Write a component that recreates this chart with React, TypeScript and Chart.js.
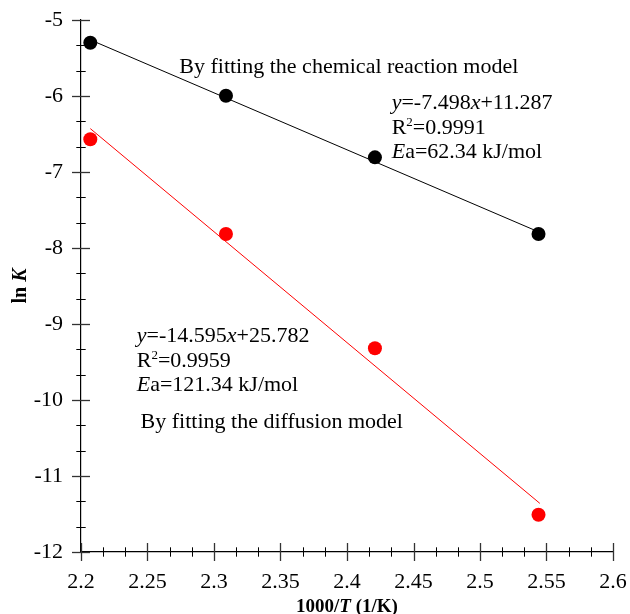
import React, { useEffect, useRef } from "react";
import { Chart, registerables } from "chart.js";

Chart.register(...registerables);

// ---- data ----
const xTickValues = [2.2, 2.25, 2.3, 2.35, 2.4, 2.45, 2.5, 2.55, 2.6];
const xTickLabels = ["2.2", "2.25", "2.3", "2.35", "2.4", "2.45", "2.5", "2.55", "2.6"];
const yTickValues = [-12, -11, -10, -9, -8, -7, -6, -5];
const yTickLabels = ["-12", "-11", "-10", "-9", "-8", "-7", "-6", "-5"];

const invTemp = [2.207, 2.309, 2.421, 2.544];
const lnKChem = [-5.3, -5.996, -6.807, -7.816];
const lnKDiff = [-6.57, -7.816, -9.32, -11.51];

const fitX = [2.207, 2.545];
const fitChem = [-5.261, -7.795];
const fitDiff = [-6.429, -11.36];

const FONT = "'Liberation Serif', 'Times New Roman', serif";

type Run = { text: string; style?: string; size?: number; dy?: number };

function runsWidth(ctx: CanvasRenderingContext2D, runs: Run[], base: number) {
  let w = 0;
  for (const r of runs) {
    ctx.font = `${r.style || ""} ${r.size || base}px ${FONT}`;
    w += ctx.measureText(r.text).width;
  }
  return w;
}

function drawRuns(ctx: CanvasRenderingContext2D, runs: Run[], x: number, y: number, base: number) {
  let cx = x;
  for (const r of runs) {
    ctx.font = `${r.style || ""} ${r.size || base}px ${FONT}`;
    ctx.fillText(r.text, cx, y + (r.dy || 0));
    cx += ctx.measureText(r.text).width;
  }
}

const chemLines: Run[][] = [
  [{ text: "y", style: "italic" }, { text: "=-7.498" }, { text: "x", style: "italic" }, { text: "+11.287" }],
  [{ text: "R" }, { text: "2", size: 13, dy: -8 }, { text: "=0.9991" }],
  [{ text: "E", style: "italic" }, { text: "a=62.34 kJ/mol" }],
];
const diffLines: Run[][] = [
  [{ text: "y", style: "italic" }, { text: "=-14.595" }, { text: "x", style: "italic" }, { text: "+25.782" }],
  [{ text: "R" }, { text: "2", size: 13, dy: -8 }, { text: "=0.9959" }],
  [{ text: "E", style: "italic" }, { text: "a=121.34 kJ/mol" }],
];

const decorPlugin = {
  id: "decor",
  afterDraw(chart: any) {
    const ctx: CanvasRenderingContext2D = chart.ctx;
    const xs = chart.scales.x;
    const ys = chart.scales.y;
    const area = chart.chartArea;
    ctx.save();

    // ticks crossing the axes
    const axisY = area.bottom;
    const axisX = area.left;
    const tick = (x1: number, y1: number, x2: number, y2: number, w: number, c: string) => {
      ctx.beginPath();
      ctx.lineWidth = w;
      ctx.strokeStyle = c;
      ctx.moveTo(x1, y1);
      ctx.lineTo(x2, y2);
      ctx.stroke();
    };
    for (let i = 0; i < xTickValues.length; i++) {
      const px = Math.round(xs.getPixelForValue(xTickValues[i])) + 0.5;
      tick(px, axisY - 9, px, axisY + 9, 1.3, "#333");
      if (i < xTickValues.length - 1) {
        const step = (xTickValues[i + 1] - xTickValues[i]) / 3;
        for (let k = 1; k < 3; k++) {
          const mx = Math.round(xs.getPixelForValue(xTickValues[i] + k * step)) + 0.5;
          tick(mx, axisY - 4.7, mx, axisY + 4.7, 1, "#000");
        }
      }
    }
    for (let i = 0; i < yTickValues.length; i++) {
      const py = Math.round(ys.getPixelForValue(yTickValues[i])) + 0.5;
      tick(axisX - 9, py, axisX + 9, py, 1.3, "#333");
      if (i < yTickValues.length - 1) {
        const step = (yTickValues[i + 1] - yTickValues[i]) / 3;
        for (let k = 1; k < 3; k++) {
          const my = Math.round(ys.getPixelForValue(yTickValues[i] + k * step)) + 0.5;
          tick(axisX - 4.7, my, axisX + 4.7, my, 1, "#000");
        }
      }
    }

    // annotations
    ctx.fillStyle = "#000";
    ctx.textAlign = "left";
    ctx.textBaseline = "alphabetic";
    const base = 22;
    ctx.font = `${base}px ${FONT}`;
    ctx.fillText("By fitting the chemical reaction model", xs.getPixelForValue(2.2739), ys.getPixelForValue(-5.701));
    const cx = xs.getPixelForValue(2.4336);
    const cy = ys.getPixelForValue(-6.171);
    chemLines.forEach((ln, i) => drawRuns(ctx, ln, cx, cy + i * 24.6, base));
    const dx = xs.getPixelForValue(2.2419);
    const dy = ys.getPixelForValue(-9.241);
    diffLines.forEach((ln, i) => drawRuns(ctx, ln, dx, dy + i * 24.2, base));
    ctx.font = `${base}px ${FONT}`;
    ctx.fillText("By fitting the diffusion model", xs.getPixelForValue(2.2448), ys.getPixelForValue(-10.364));

    // axis titles
    const xt: Run[] = [
      { text: "1000/", style: "bold" },
      { text: "T", style: "italic bold" },
      { text: " (1/K)", style: "bold" },
    ];
    const xw = runsWidth(ctx, xt, 19);
    drawRuns(ctx, xt, (area.left + area.right) / 2 - xw / 2, 611.5, 19);

    const yt: Run[] = [
      { text: "ln ", style: "bold" },
      { text: "K", style: "italic bold" },
    ];
    ctx.translate(26, (area.top + area.bottom) / 2);
    ctx.rotate(-Math.PI / 2);
    const yw = runsWidth(ctx, yt, 20);
    drawRuns(ctx, yt, -yw / 2, 0, 20);

    ctx.restore();
  },
};

export default function App() {
  const ref = useRef<HTMLCanvasElement | null>(null);
  useEffect(() => {
    if (!ref.current) return;
    const tickFont = { family: FONT, size: 22 };
    const chart = new Chart(ref.current, {
      type: "scatter",
      data: {
        datasets: [
          {
            label: "chem",
            data: invTemp.map((x, i) => ({ x, y: lnKChem[i] })),
            backgroundColor: "#000",
            borderColor: "#000",
            pointRadius: 7,
            pointBorderWidth: 0,
            showLine: false,
            order: 0,
          },
          {
            label: "diff",
            data: invTemp.map((x, i) => ({ x, y: lnKDiff[i] })),
            backgroundColor: "#ff0000",
            borderColor: "#ff0000",
            pointRadius: 7,
            pointBorderWidth: 0,
            showLine: false,
            order: 0,
          },
          {
            label: "chemFit",
            data: fitX.map((x, i) => ({ x, y: fitChem[i] })),
            borderColor: "#000",
            borderWidth: 1,
            pointRadius: 0,
            showLine: true,
            order: 1,
          },
          {
            label: "diffFit",
            data: fitX.map((x, i) => ({ x, y: fitDiff[i] })),
            borderColor: "#ff0000",
            borderWidth: 1,
            pointRadius: 0,
            showLine: true,
            order: 1,
          },
        ],
      },
      options: {
        responsive: false,
        animation: false,
        events: [],
        layout: { padding: { top: 20, right: 17, left: 0, bottom: 0 } },
        plugins: { legend: { display: false }, tooltip: { enabled: false }, title: { display: false } },
        scales: {
          x: {
            type: "linear",
            min: 2.2,
            max: 2.6,
            afterBuildTicks: (s: any) => {
              s.ticks = xTickValues.map((v) => ({ value: v }));
            },
            afterFit: (s: any) => {
              s.height = 62;
              s.paddingLeft = 0;
              s.paddingRight = 0;
            },
            ticks: {
              callback: (_v: any, i: number) => xTickLabels[i],
              font: tickFont,
              color: "#000",
              padding: 17,
              maxRotation: 0,
              autoSkip: false,
            },
            grid: { display: false, drawTicks: false },
            border: { display: true, color: "#000", width: 1.2 },
          },
          y: {
            type: "linear",
            min: -12,
            max: -5,
            afterBuildTicks: (s: any) => {
              s.ticks = yTickValues.map((v) => ({ value: v }));
            },
            afterFit: (s: any) => {
              s.width = 81;
              s.paddingTop = 0;
              s.paddingBottom = 0;
            },
            ticks: {
              callback: (_v: any, i: number) => yTickLabels[i],
              font: tickFont,
              color: "#000",
              padding: 18,
              autoSkip: false,
            },
            grid: { display: false, drawTicks: false },
            border: { display: true, color: "#000", width: 1.2 },
          },
        },
      },
      plugins: [decorPlugin],
    } as any);
    return () => chart.destroy();
  }, []);

  return (
    <div style={{ position: "fixed", left: 0, top: 0, width: 630, height: 614, background: "#fff" }}>
      <canvas ref={ref} width={630} height={614} style={{ width: 630, height: 614, display: "block" }} />
    </div>
  );
}
